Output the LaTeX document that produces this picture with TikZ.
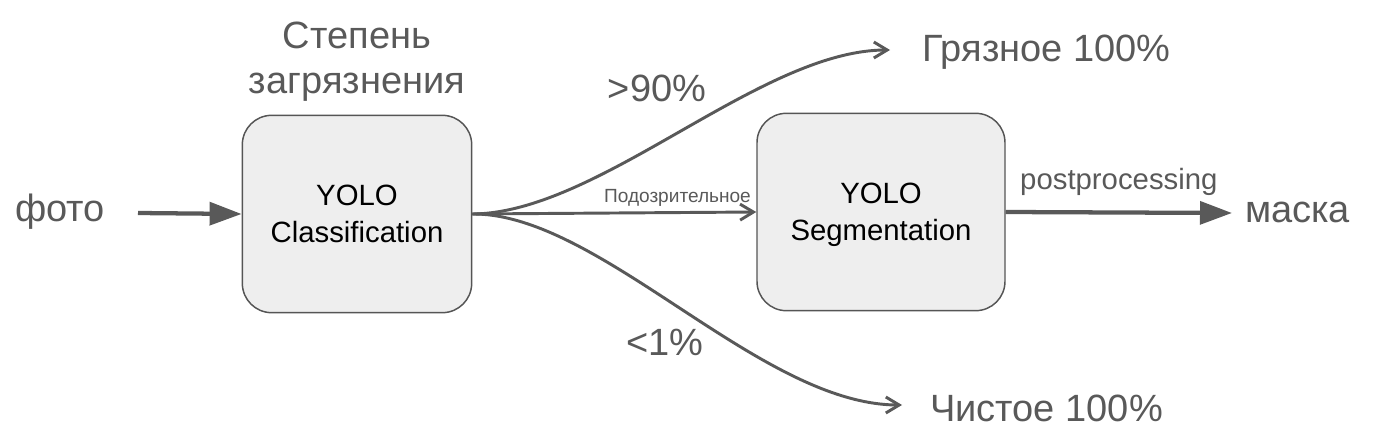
\documentclass[tikz,border=0pt]{standalone}
\usepackage{fontspec}
\setmainfont{Liberation Sans}
\usepackage{xcolor}
\usepackage{tikz}
\usetikzlibrary{arrows.meta, positioning}
\definecolor{labelgrey}{RGB}{89,89,89}
\definecolor{boxfill}{RGB}{238,238,238}
\definecolor{boxline}{RGB}{85,85,85}

\begin{document}
\begin{tikzpicture}[x=0.75pt, y=-0.75pt,
    bigtext/.style={text=labelgrey, font=\fontsize{28.5}{34}\selectfont, inner sep=0pt},
    modelbox/.style={draw=boxline, line width=1.1pt, fill=boxfill, rounded corners=22pt,
      minimum width=172pt, minimum height=148pt, align=center,
      font=\fontsize{22}{28}\selectfont},
    thickarrow/.style={draw=labelgrey, line width=3.2pt, -{Triangle[length=24pt, width=17pt]}},
    thinarrow/.style={draw=labelgrey, line width=2.2pt, -{Straight Barb[length=10pt, width=12pt]}}]
  \useasboundingbox (0,0) rectangle (1379,435);

  % models
  \node[modelbox] (cls) at (357,214) {YOLO\\Classification};
  \node[modelbox, minimum width=186pt] (seg) at (881,212) {YOLO\\\smash{Segmentation}};

  % texts
  \node[bigtext] (photo) at (60,212) {фото};
  \node[bigtext, align=center] (degree) at (357,62) {Степень\\загрязнения};
  \node[bigtext, anchor=west] (dirty) at (922,52) {Грязное 100\%};
  \node[bigtext, anchor=west] (clean) at (930,408) {Чистое 100\%};
  \node[bigtext, anchor=west] (mask) at (1245,212) {маска};
  \coordinate (photoout) at (138,213);
  \coordinate (dirtyin) at (890,50);
  \coordinate (cleanin) at (902,405);
  \coordinate (maskin) at (1232,213);

  % arrows
  \draw[thickarrow] (photoout) -- (cls.west);
  \draw[thinarrow] (cls.east) .. controls (600,213) and (760,50) .. (dirtyin);
  \draw[thinarrow] (cls.east) .. controls (600,213) and (760,405) .. (cleanin);
  \draw[thinarrow] (cls.east) -- node[pos=1, anchor=south east, text=labelgrey,
    font=\fontsize{14.3}{17}\selectfont, inner sep=3pt] (susp) {Подозрительное} (seg.west);
  \draw[thickarrow] (seg.east) -- node[above, text=labelgrey, font=\fontsize{22}{26}\selectfont,
    yshift=8pt] (post) {postprocessing} (maskin);

  \node[bigtext] (high) at (657,88) {>90\%};
  \node[bigtext] (low) at (665,342) {<1\%};
\end{tikzpicture}
\end{document}
